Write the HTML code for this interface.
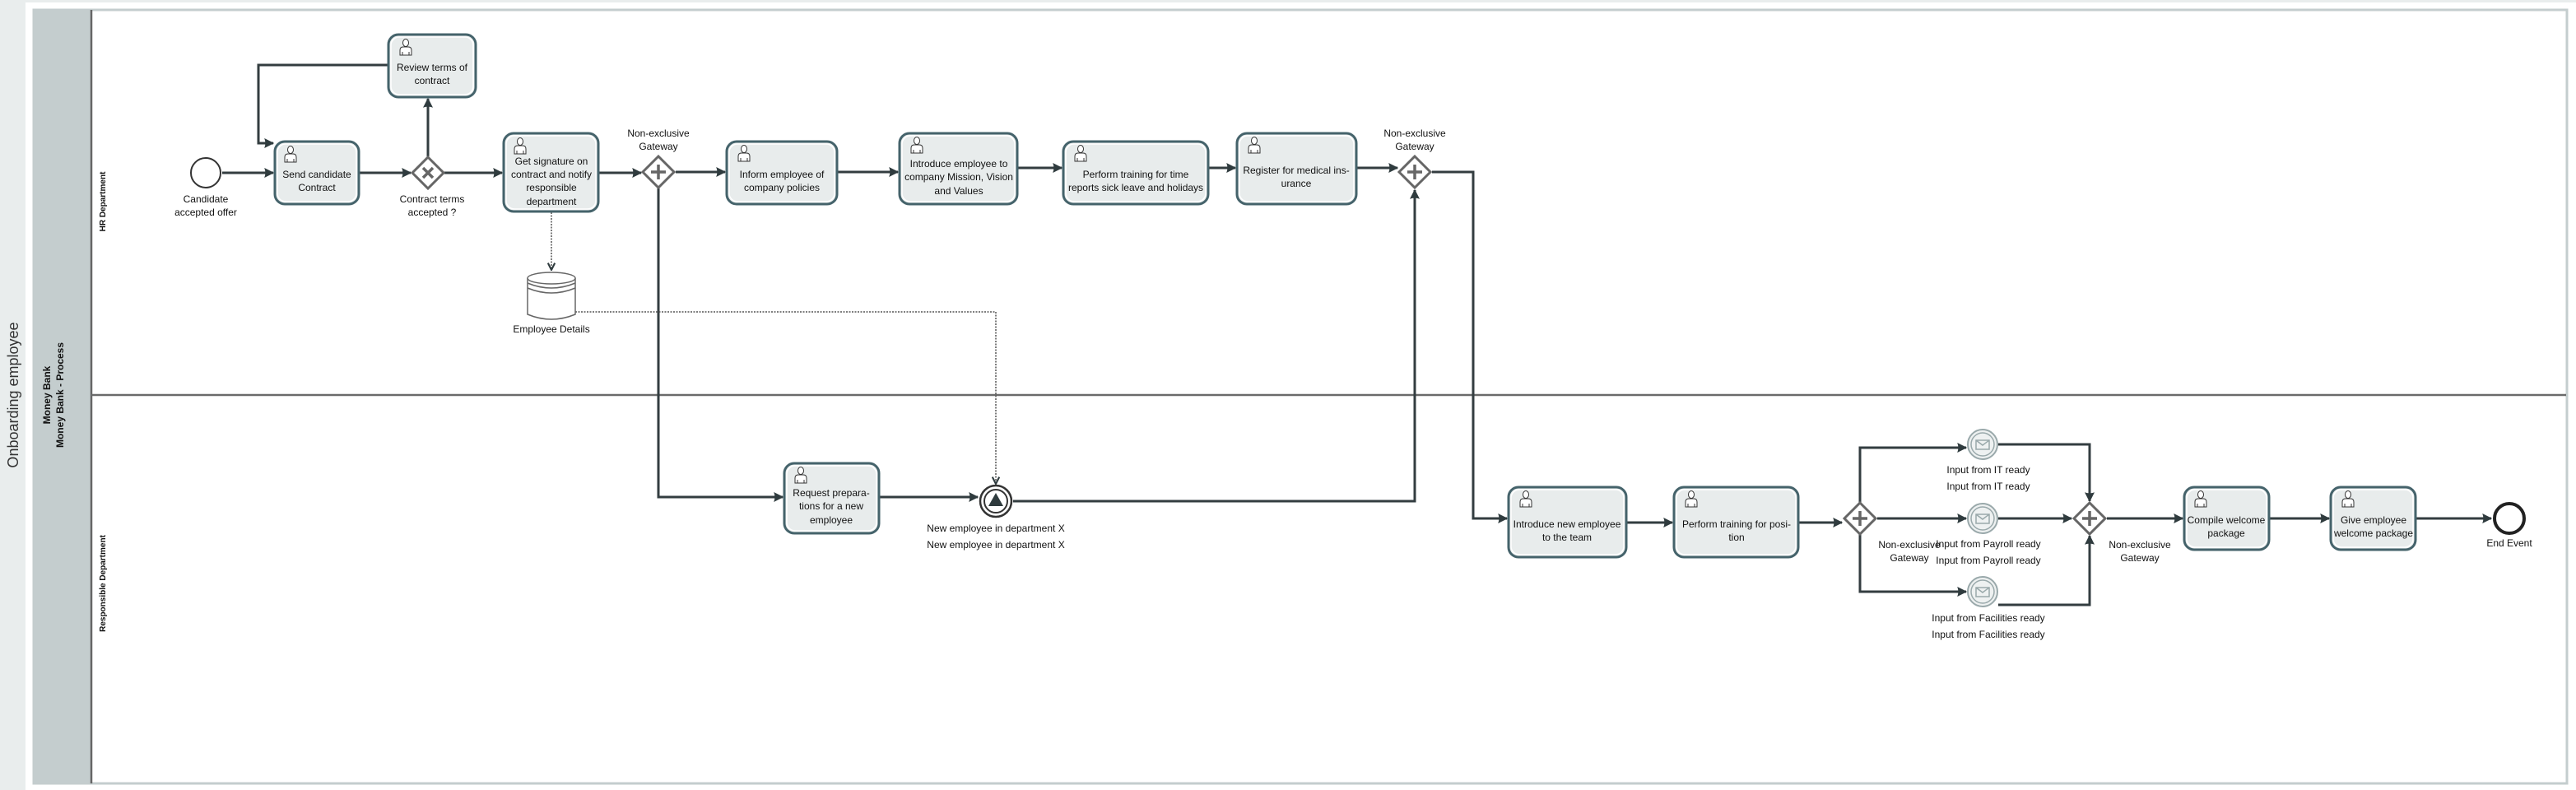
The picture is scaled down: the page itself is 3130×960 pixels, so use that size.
<!DOCTYPE html>
<html><head><meta charset="utf-8"><style>
html,body{margin:0;padding:0;background:#e9eded;}
svg{display:block}
text{font-family:"Liberation Sans Narrow","Liberation Sans",sans-serif;font-size:12px;fill:#111;text-anchor:middle}
</style></head><body>
<svg width="3130" height="960" viewBox="0 0 3130 960" xmlns="http://www.w3.org/2000/svg">
<defs>
<marker id="a" viewBox="0 0 10 10" refX="9" refY="5" markerWidth="4" markerHeight="4" orient="auto" markerUnits="strokeWidth">
<path d="M0,0 L10,5 L0,10 Q2,5 0,0z" fill="#2f3b3e"/></marker>
<marker id="c" viewBox="0 0 10 10" refX="9" refY="5" markerWidth="7" markerHeight="7" orient="auto" markerUnits="strokeWidth">
<path d="M1,1 L9,5 L1,9" fill="none" stroke="#2f3b3e" stroke-width="2"/></marker>
<g id="p"><ellipse cx="7" cy="5" rx="3.5" ry="4.5" fill="#fff" stroke="#333" stroke-width="1"/><path d="M0,20 L0,14 Q0,10 4,10 L10,10 Q14,10 14,14 L14,20 Z M3,20 L3,16 M11,20 L11,16" fill="#fff" stroke="#333" stroke-width="1"/></g>
</defs>
<rect x="31" y="3" width="3099" height="957" fill="#fff"/>
<rect x="0" y="0" width="31" height="960" fill="#e9eded"/>
<rect x="0" y="0" width="3130" height="3" fill="#e9eded"/>
<rect x="41" y="12" width="3078" height="940" fill="#fff" stroke="#c4cdce" stroke-width="3"/>
<rect x="40" y="11" width="70" height="942" fill="#c4cdce"/>
<line x1="111" y1="12" x2="111" y2="952" stroke="#666" stroke-width="2.5"/>
<line x1="111" y1="480" x2="3118" y2="480" stroke="#6a6a6a" stroke-width="2.5"/>
<text transform="translate(22,480) rotate(-90)" style="font-family:'Liberation Sans',sans-serif;font-size:18px;fill:#333">Onboarding employee</text>
<text transform="translate(61,480) rotate(-90)" style="font-family:'Liberation Sans',sans-serif;font-size:12px;font-weight:bold">Money Bank</text>
<text transform="translate(77,480) rotate(-90)" style="font-family:'Liberation Sans',sans-serif;font-size:12px;font-weight:bold">Money Bank - Process</text>
<text transform="translate(128,245) rotate(-90)" style="font-family:'Liberation Sans',sans-serif;font-size:10px;font-weight:bold">HR Department</text>
<text transform="translate(128,709) rotate(-90)" style="font-family:'Liberation Sans',sans-serif;font-size:10px;font-weight:bold">Responsible Department</text>

<g fill="none" stroke="#333d40" stroke-width="3" marker-end="url(#a)">
<path d="M270,210 H332"/>
<path d="M436,210 H499"/>
<path d="M540,210 H610"/>
<path d="M727,210 H779"/>
<path d="M821,209 H881"/>
<path d="M1017,209 H1091"/>
<path d="M1236,204 H1290"/>
<path d="M1468,204 H1501"/>
<path d="M1648,204 H1698"/>
<path d="M520,190 V120"/>
<path d="M472,79 H314 V174 H332"/>
<path d="M1740,209 H1790 V630 H1831"/>
<path d="M800,229 V604 H951"/>
<path d="M1068,604 H1188"/>
<path d="M1231,609 H1719 V231"/>
<path d="M1976,635 H2032"/>
<path d="M2185,635 H2238"/>
<path d="M2260,611 V544 H2389"/>
<path d="M2281,630 H2389"/>
<path d="M2260,649 V719 H2389"/>
<path d="M2428,540 H2539 V609"/>
<path d="M2428,630 H2517"/>
<path d="M2428,735 H2539 V651"/>
<path d="M2560,630 H2652"/>
<path d="M2757,630 H2830"/>
<path d="M2935,630 H3027"/>
</g>
<g fill="none" stroke="#555" stroke-width="1.5" stroke-dasharray="2,1.5" marker-end="url(#c)">
<path d="M670,258 V328"/>
<path d="M699,379 H1210 V588"/>
</g>

<circle cx="250" cy="210" r="18" fill="#fff" stroke="#333" stroke-width="2"/>
<text x="250" y="246">Candidate</text><text x="250" y="262">accepted offer</text>

<g fill="#e8ecec" stroke="#45636b" stroke-width="3">
<rect x="334" y="172" width="102" height="76" rx="12"/>
<rect x="472" y="42" width="106" height="76" rx="12"/>
<rect x="612" y="162" width="115" height="95" rx="12"/>
<rect x="883" y="172" width="134" height="76" rx="12"/>
<rect x="1093" y="162" width="143" height="86" rx="12"/>
<rect x="1292" y="172" width="176" height="76" rx="12"/>
<rect x="1503" y="162" width="145" height="86" rx="12"/>
<rect x="953" y="563" width="115" height="85" rx="12"/>
<rect x="1833" y="592" width="143" height="85" rx="12"/>
<rect x="2034" y="592" width="151" height="85" rx="12"/>
<rect x="2654" y="592" width="103" height="76" rx="12"/>
<rect x="2832" y="592" width="103" height="76" rx="12"/>
</g>
<g fill="none" stroke="#fff" stroke-width="1.5">
<rect x="337" y="175" width="96" height="70" rx="10"/>
<rect x="475" y="45" width="100" height="70" rx="10"/>
<rect x="615" y="165" width="109" height="89" rx="10"/>
<rect x="886" y="175" width="128" height="70" rx="10"/>
<rect x="1096" y="165" width="137" height="80" rx="10"/>
<rect x="1295" y="175" width="170" height="70" rx="10"/>
<rect x="1506" y="165" width="139" height="80" rx="10"/>
<rect x="956" y="566" width="109" height="79" rx="10"/>
<rect x="1836" y="595" width="137" height="79" rx="10"/>
<rect x="2037" y="595" width="145" height="79" rx="10"/>
<rect x="2657" y="595" width="97" height="70" rx="10"/>
<rect x="2835" y="595" width="97" height="70" rx="10"/>
</g>
<use href="#p" x="346" y="177"/><use href="#p" x="486" y="47"/><use href="#p" x="625" y="167"/>
<use href="#p" x="897" y="176"/><use href="#p" x="1107" y="166"/><use href="#p" x="1306" y="176"/>
<use href="#p" x="1517" y="166"/><use href="#p" x="966" y="567"/><use href="#p" x="1847" y="596"/>
<use href="#p" x="2048" y="596"/><use href="#p" x="2667" y="596"/><use href="#p" x="2846" y="596"/>

<text x="385" y="216">Send candidate</text><text x="385" y="232">Contract</text>
<text x="525" y="86">Review terms of</text><text x="525" y="102">contract</text>
<text x="670" y="200">Get signature on</text><text x="670" y="216">contract and notify</text><text x="670" y="232">responsible</text><text x="670" y="249">department</text>
<text x="950" y="216">Inform employee of</text><text x="950" y="232">company policies</text>
<text x="1165" y="203">Introduce employee to</text><text x="1165" y="219">company Mission, Vision</text><text x="1165" y="236">and Values</text>
<text x="1380" y="216">Perform training for time</text><text x="1380" y="232">reports sick leave and holidays</text>
<text x="1575" y="211">Register for medical ins-</text><text x="1575" y="227">urance</text>
<text x="1010" y="603">Request prepara-</text><text x="1010" y="619">tions for a new</text><text x="1010" y="636">employee</text>
<text x="1904" y="641">Introduce new employee</text><text x="1904" y="657">to the team</text>
<text x="2110" y="641">Perform training for posi-</text><text x="2110" y="657">tion</text>
<text x="2705" y="636">Compile welcome</text><text x="2705" y="652">package</text>
<text x="2884" y="636">Give employee</text><text x="2884" y="652">welcome package</text>

<g fill="#fff" stroke="#666" stroke-width="3">
<path d="M520,191 L539,210 L520,229 L501,210Z"/>
<path d="M800,190 L819,209 L800,228 L781,209Z"/>
<path d="M1719,190 L1738,209 L1719,228 L1700,209Z"/>
<path d="M2260,611 L2279,630 L2260,649 L2241,630Z"/>
<path d="M2539,611 L2558,630 L2539,649 L2520,630Z"/>
</g>
<g stroke="#666" stroke-width="3.5">
<path d="M514,204 L526,216 M526,204 L514,216"/>
<path d="M800,200 V218 M791,209 H809"/>
<path d="M1719,200 V218 M1710,209 H1728"/>
<path d="M2260,621 V639 M2251,630 H2269"/>
<path d="M2539,621 V639 M2530,630 H2548"/>
</g>
<text x="525" y="246">Contract terms</text><text x="525" y="262">accepted ?</text>
<text x="800" y="166">Non-exclusive</text><text x="800" y="182">Gateway</text>
<text x="1719" y="166">Non-exclusive</text><text x="1719" y="182">Gateway</text>
<text x="2320" y="666">Non-exclusive</text><text x="2320" y="682">Gateway</text>
<text x="2600" y="666">Non-exclusive</text><text x="2600" y="682">Gateway</text>

<g fill="#fff" stroke="#666" stroke-width="1.5">
<path d="M641,338 V382 Q670,394 699,382 V338"/>
<ellipse cx="670" cy="338" rx="29" ry="7"/>
<path d="M641,344 Q670,356 699,344 M641,350 Q670,362 699,350" fill="none"/>
</g>
<text x="670" y="404">Employee Details</text>

<circle cx="1210" cy="609" r="19" fill="#fff" stroke="#333" stroke-width="2.5"/>
<circle cx="1210" cy="609" r="14" fill="#fff" stroke="#333" stroke-width="2"/>
<path d="M1210,599 L1219,615 L1201,615Z" fill="#2f3b3e"/>
<text x="1210" y="646">New employee in department X</text>
<text x="1210" y="666">New employee in department X</text>

<g fill="#eef1f1" stroke="#9aa9ab" stroke-width="2">
<circle cx="2409" cy="540" r="18"/><circle cx="2409" cy="630" r="18"/><circle cx="2409" cy="719" r="18"/>
</g>
<g fill="none" stroke="#9aa9ab" stroke-width="1.5">
<circle cx="2409" cy="540" r="14"/><circle cx="2409" cy="630" r="14"/><circle cx="2409" cy="719" r="14"/>
<path d="M2401,535 h16 v11 h-16z M2401,535 l8,6 l8,-6"/>
<path d="M2401,625 h16 v11 h-16z M2401,625 l8,6 l8,-6"/>
<path d="M2401,714 h16 v11 h-16z M2401,714 l8,6 l8,-6"/>
</g>
<text x="2416" y="575">Input from IT ready</text><text x="2416" y="595">Input from IT ready</text>
<text x="2416" y="665">Input from Payroll ready</text><text x="2416" y="685">Input from Payroll ready</text>
<text x="2416" y="755">Input from Facilities ready</text><text x="2416" y="775">Input from Facilities ready</text>

<circle cx="3049" cy="630" r="18" fill="#fff" stroke="#222" stroke-width="4"/>
<text x="3049" y="664">End Event</text>
</svg>
</body></html>
